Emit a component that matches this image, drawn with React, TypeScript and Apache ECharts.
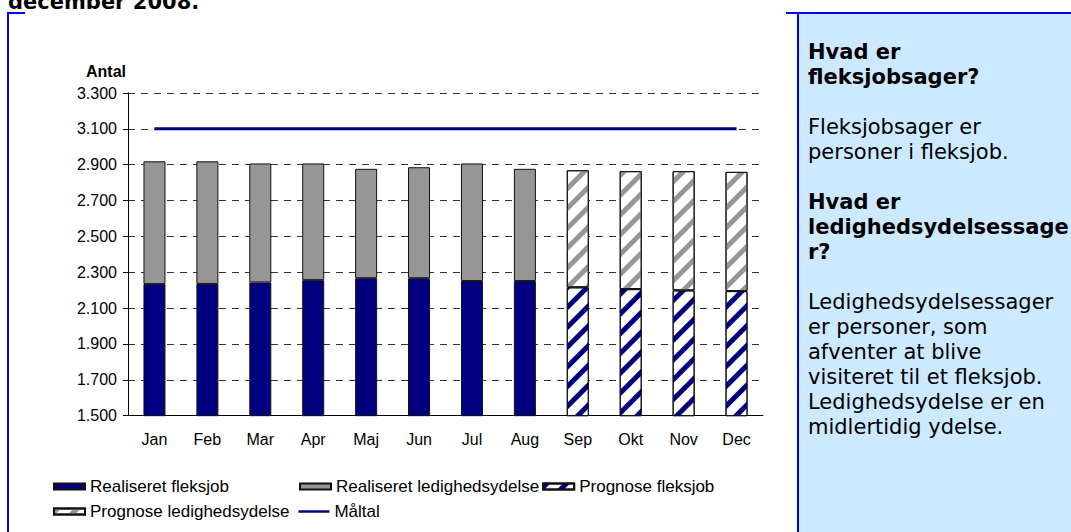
import React, { useEffect, useRef } from "react";
import * as echarts from "echarts";

const months = ["Jan", "Feb", "Mar", "Apr", "Maj", "Jun", "Jul", "Aug", "Sep", "Okt", "Nov", "Dec"];
const realFleks = [2234, 2235, 2243, 2256, 2267, 2267, 2251, 2251, null, null, null, null];
const realLedig = [685, 684, 664, 651, 610, 619, 656, 626, null, null, null, null];
const progFleks = [null, null, null, null, null, null, null, null, 2216, 2206, 2199, 2195];
const progLedig = [null, null, null, null, null, null, null, null, 653, 658, 665, 665];
const maaltal = [3100, 3100, 3100, 3100, 3100, 3100, 3100, 3100, 3100, 3100, 3100, 3100];

const seriesNames = [
  "Realiseret fleksjob",
  "Realiseret ledighedsydelse",
  "Prognose fleksjob",
  "Prognose ledighedsydelse",
  "Måltal",
];

const titleText = "december 2008.";
const panelParagraphs = [
  { text: "Hvad er\nfleksjobsager?", bold: true },
  { text: "Fleksjobsager er\npersoner i fleksjob.", bold: false },
  { text: "Hvad er\nledighedsydelsessage\nr?", bold: true },
  {
    text: "Ledighedsydelsessager\ner personer, som\nafventer at blive\nvisiteret til et fleksjob.\nLedighedsydelse er en\nmidlertidig ydelse.",
    bold: false,
  },
];
const panelTops = [39.5, 114.5, 189.5, 289.5];

const NAVY = "#000080";
const GRAY = "#969696";
const FONT = "Liberation Sans";

function fmt(v: number) {
  const t = Math.floor(v / 1000);
  const r = String(v % 1000).padStart(3, "0");
  return t + "." + r;
}

export default function App() {
  const ref = useRef<HTMLDivElement>(null);
  useEffect(() => {
    document.body.style.margin = "0";
    const chart = echarts.init(ref.current!, null, { renderer: "svg" });
    const stripe = (color: string) => ({
      symbol: "rect",
      symbolSize: 1,
      color,
      dashArrayX: [1, 0],
      dashArrayY: [5, 9],
      rotation: -Math.PI / 4,
    });
    const legendText = { fontFamily: FONT, fontSize: 17, color: "#000" };
    const option: any = {
      animation: false,
      backgroundColor: "#fff",
      grid: { left: 128, right: 308, top: 93, bottom: 116.3, containLabel: false },
      xAxis: {
        type: "category",
        data: months,
        axisLine: { lineStyle: { color: "#000", width: 1 } },
        axisTick: { length: 5, lineStyle: { color: "#000" } },
        axisLabel: { fontFamily: FONT, fontSize: 16, color: "#000", margin: 16 },
      },
      yAxis: {
        type: "value",
        min: 1500,
        max: 3300,
        interval: 200,
        name: "Antal",
        nameLocation: "end",
        nameGap: 14,
        nameTextStyle: { fontFamily: FONT, fontSize: 16, fontWeight: "bold", color: "#000", align: "right", padding: [0, 2, 0, 0] },
        axisLine: { show: true, lineStyle: { color: "#000", width: 1 } },
        axisTick: { show: true, length: 5, lineStyle: { color: "#000" } },
        axisLabel: { fontFamily: FONT, fontSize: 16, color: "#000", margin: 11, formatter: (v: number) => fmt(v) },
        splitLine: { show: true, lineStyle: { color: "#333", type: [7, 6], width: 1 } },
      },
      legend: [
        {
          left: 48, top: 473, itemWidth: 31, itemHeight: 6, icon: "rect",
          textStyle: legendText, data: [seriesNames[0]],
        },
        {
          left: 294, top: 473, itemWidth: 31, itemHeight: 6, itemGap: 3, icon: "rect",
          textStyle: legendText, data: [seriesNames[1], seriesNames[2]],
        },
        {
          left: 48, top: 498, itemWidth: 31, itemHeight: 6, itemGap: 9,
          textStyle: legendText,
          data: [
            { name: seriesNames[3], icon: "rect" },
            { name: seriesNames[4], icon: "path://M0,0 L30,0 L30,2.4 L0,2.4 Z", itemStyle: { color: NAVY, borderWidth: 0 } },
          ],
        },
      ],
      series: [
        {
          name: seriesNames[0], type: "bar", stack: "a", barWidth: 22, data: realFleks,
          itemStyle: { color: NAVY, borderColor: "#111", borderWidth: 1 },
        },
        {
          name: seriesNames[1], type: "bar", stack: "a", barWidth: 22, data: realLedig,
          itemStyle: { color: GRAY, borderColor: "#111", borderWidth: 1 },
        },
        {
          name: seriesNames[2], type: "bar", stack: "a", barWidth: 22, data: progFleks,
          itemStyle: { color: "#fff", borderColor: "#111", borderWidth: 1, decal: stripe(NAVY) },
        },
        {
          name: seriesNames[3], type: "bar", stack: "a", barWidth: 22, data: progLedig,
          itemStyle: { color: "#fff", borderColor: "#111", borderWidth: 1, decal: stripe(GRAY) },
        },
        {
          name: seriesNames[4], type: "line", data: maaltal, symbol: "none", z: 5,
          lineStyle: { color: NAVY, width: 3 }, itemStyle: { color: NAVY },
        },
      ],
      graphic: [
        {
          type: "text", x: 8, y: 2, silent: true,
          style: { text: titleText, fontFamily: "DejaVu Sans", fontWeight: "bold", fontSize: 21, fill: "#000", verticalAlign: "middle" },
        },
        { type: "rect", shape: { x: 7, y: 12, width: 2, height: 520 }, style: { fill: "#0000FF" }, silent: true },
        { type: "rect", shape: { x: 7, y: 12, width: 18, height: 2 }, style: { fill: "#0000FF" }, silent: true },
        { type: "rect", shape: { x: 799, y: 14, width: 272, height: 518 }, style: { fill: "#CCE9FF" }, silent: true },
        { type: "rect", shape: { x: 786, y: 12, width: 285, height: 2 }, style: { fill: "#0000FF" }, silent: true },
        { type: "rect", shape: { x: 797, y: 12, width: 2, height: 520 }, style: { fill: "#0000FF" }, silent: true },
        ...panelParagraphs.map((p, i) => ({
          type: "text", x: 808, y: panelTops[i], silent: true,
          style: {
            text: p.text, fontFamily: "DejaVu Sans", fontWeight: p.bold ? "bold" : "normal",
            fontSize: 21, lineHeight: 25, fill: "#000", verticalAlign: "top",
          },
        })),
      ],
    };
    chart.setOption(option);
    return () => chart.dispose();
  }, []);
  return <div ref={ref} style={{ width: 1071, height: 532 }} />;
}
